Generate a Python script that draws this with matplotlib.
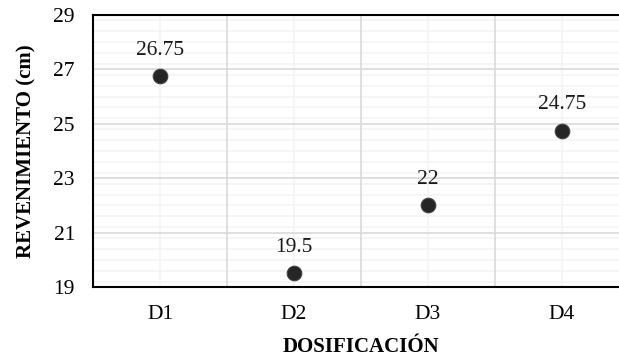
import matplotlib
matplotlib.use("Agg")
import matplotlib.pyplot as plt
from matplotlib.ticker import MultipleLocator, FixedLocator

categories = ["D1", "D2", "D3", "D4"]
revenimiento = [26.75, 19.5, 22, 24.75]
point_labels = ["26.75", "19.5", "22", "24.75"]
y_ticks = [19, 21, 23, 25, 27, 29]

plt.rcParams['font.family'] = ['Liberation Serif', 'DejaVu Serif']

fig = plt.figure(figsize=(6.19, 3.62), dpi=100)
ax = fig.add_axes([93/619, 75/362, (629-93)/619, (287-15)/362])

xs = list(range(1, len(categories) + 1))
ax.scatter(xs, revenimiento, s=110, color='#262626', edgecolor='#404040',
           linewidth=0.8, zorder=3)
for x, y, lab in zip(xs, revenimiento, point_labels):
    ax.annotate(lab, (x, y), xytext=(0, 12), textcoords='offset points',
                ha='center', va='bottom', fontsize=15.5, color='#1a1a1a')

ax.set_xlim(0.5, 4.5)
ax.set_ylim(19, 29)
ax.set_xticks(xs)
ax.set_xticklabels(categories)
ax.set_yticks(y_ticks)
ax.xaxis.set_major_locator(FixedLocator(xs))
ax.yaxis.set_minor_locator(MultipleLocator(0.4))

# grid: vertical major lines at category boundaries, light lines at centers
for b in [1.5, 2.5, 3.5]:
    ax.axvline(b, color='#d9d9d9', lw=1.2, zorder=1)
for x in xs:
    ax.axvline(x, color='#f3f3f3', lw=1.2, zorder=0.5)
ax.grid(axis='y', which='major', color='#d9d9d9', lw=1.2, zorder=1)
ax.grid(axis='y', which='minor', color='#f3f3f3', lw=1.2, zorder=0.5)
ax.set_axisbelow(True)

ax.tick_params(axis='both', which='both', length=0, labelsize=15.5)
ax.tick_params(axis='x', pad=13)
ax.tick_params(axis='y', pad=13)
for s in ax.spines.values():
    s.set_linewidth(1.5)
    s.set_color('black')

ax.set_xlabel("DOSIFICACIÓN", fontsize=15, fontweight='bold', labelpad=9)
ax.set_ylabel("REVENIMIENTO (cm)", fontsize=15, fontweight='bold', labelpad=12)

fig.savefig("out.png", dpi=100)
